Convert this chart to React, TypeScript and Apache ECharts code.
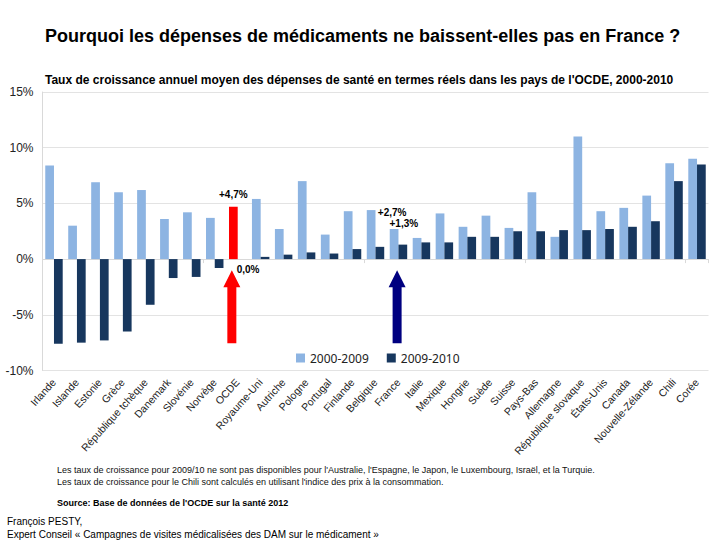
import React, { useEffect, useRef } from "react";
import * as echarts from "echarts";

const categories = [
  "Irlande", "Islande", "Estonie", "Grèce", "République tchèque", "Danemark", "Slovénie", "Norvège", "OCDE",
  "Royaume-Uni", "Autriche", "Pologne", "Portugal", "Finlande", "Belgique", "France", "Italie", "Mexique",
  "Hongrie", "Suède", "Suisse", "Pays-Bas", "Allemagne", "République slovaque", "États-Unis", "Canada",
  "Nouvelle-Zélande", "Chili", "Corée",
];
const growth2000to2009 = [
  8.4, 3.0, 6.9, 6.0, 6.2, 3.6, 4.2, 3.7, 4.7, 5.4, 2.7, 7.0, 2.2, 4.3, 4.4, 2.7, 1.9, 4.1, 2.9, 3.9, 2.8, 6.0,
  2.0, 11.0, 4.3, 4.6, 5.7, 8.6, 9.0,
];
const growth2009to2010 = [
  -7.6, -7.5, -7.3, -6.5, -4.1, -1.7, -1.6, -0.8, 0.0, 0.2, 0.4, 0.6, 0.5, 0.9, 1.1, 1.3, 1.5, 1.5, 2.0, 2.0,
  2.5, 2.5, 2.6, 2.6, 2.7, 2.9, 3.4, 7.0, 8.5,
];
const seriesNames = ["2000-2009", "2009-2010"];
const yTicks = { min: -10, max: 15, interval: 5 };

const LIGHT = "#8DB4E2";
const DARK = "#17375E";
const FONT = '"Liberation Sans", Arial, sans-serif';
const ARROW = "path://M8.5,0 L17,17 L13,17 L13,73 L4,73 L4,17 L0,17 Z";

export default function App() {
  const ref = useRef<HTMLDivElement>(null);
  useEffect(() => {
    if (!ref.current) return;
    const chart = echarts.init(ref.current, null, { renderer: "svg" });
    const lightData = growth2000to2009.map((v, i) => {
      const c = categories[i];
      if (c === "OCDE")
        return {
          value: v,
          itemStyle: { color: "#FF0000" },
          label: { show: true, position: "top", formatter: "+4,7%", offset: [0, -2] },
        };
      if (c === "France")
        return { value: v, label: { show: true, position: "top", formatter: "+2,7%", offset: [-2, -7] } };
      return v;
    });
    const darkData = growth2009to2010.map((v, i) => {
      const c = categories[i];
      if (c === "OCDE")
        return { value: v, label: { show: true, position: "bottom", formatter: "0,0%", offset: [6, 0] } };
      if (c === "France")
        return { value: v, label: { show: true, position: "top", formatter: "+1,3%", offset: [1, -11] } };
      return v;
    });
    const labelStyle = { fontFamily: FONT, fontWeight: "bold", fontSize: 10, color: "#000" };
    chart.setOption({
      animation: false,
      backgroundColor: "#ffffff",
      textStyle: { fontFamily: FONT },
      grid: { left: 42.5, right: 11.5, top: 92, bottom: 169.5, containLabel: false },
      legend: {
        data: seriesNames,
        left: 291,
        top: 347,
        icon: "rect",
        itemWidth: 9,
        itemHeight: 9,
        itemGap: 18,
        textStyle: { fontFamily: '"Noto Sans", sans-serif', fontSize: 12, color: "#222" },
      },
      xAxis: [
        {
          type: "category",
          data: categories,
          position: "bottom",
          axisLine: { show: false, onZero: false },
          axisTick: { show: false },
          axisLabel: {
            rotate: 48,
            interval: 0,
            fontSize: 10.5,
            color: "#222",
            fontFamily: FONT,
            margin: 10,
          },
        },
        {
          type: "category",
          data: categories,
          position: "bottom",
          axisLine: { show: true, onZero: true, lineStyle: { color: "#d9d9d9" } },
          axisTick: { show: true, length: 4, lineStyle: { color: "#d9d9d9" } },
          axisLabel: { show: false },
        },
      ],
      yAxis: {
        type: "value",
        min: yTicks.min,
        max: yTicks.max,
        interval: yTicks.interval,
        axisLine: { show: true, lineStyle: { color: "#d9d9d9" } },
        axisTick: { show: false },
        splitLine: { lineStyle: { color: "#e3e3e3" } },
        axisLabel: { formatter: "{value}%", fontSize: 12, color: "#222", fontFamily: FONT, margin: 9 },
      },
      series: [
        {
          name: seriesNames[0],
          type: "bar",
          data: lightData,
          itemStyle: { color: LIGHT },
          barGap: "0%",
          barCategoryGap: "24%",
          label: { ...labelStyle, show: false },
          markPoint: {
            silent: true,
            label: { show: false },
            data: [
              {
                coord: ["OCDE", -4.27],
                symbol: ARROW,
                symbolSize: [17, 73],
                symbolOffset: [-1.5, 0],
                itemStyle: { color: "#FF0000" },
              },
              {
                coord: ["France", -4.27],
                symbol: ARROW,
                symbolSize: [17, 73],
                symbolOffset: [3, 0],
                itemStyle: { color: "#000080" },
              },
            ],
          },
        },
        {
          name: seriesNames[1],
          type: "bar",
          data: darkData,
          itemStyle: { color: DARK },
          barGap: "0%",
          barCategoryGap: "24%",
          label: { ...labelStyle, show: false },
        },
      ],
      graphic: [
        {
          type: "text",
          x: 45,
          y: 36,
          style: {
            text: "Pourquoi les dépenses de médicaments ne baissent-elles pas en France ?",
            font: `bold 18px ${FONT}`,
            fill: "#000",
            verticalAlign: "middle",
          },
        },
        {
          type: "text",
          x: 45,
          y: 80,
          style: {
            text: "Taux de croissance annuel moyen des dépenses de santé en termes réels dans les pays de l'OCDE, 2000-2010",
            font: `bold 12px ${FONT}`,
            fill: "#000",
            verticalAlign: "middle",
          },
        },
        {
          type: "text",
          x: 57,
          y: 470,
          style: {
            text: "Les taux de croissance pour 2009/10 ne sont pas disponibles pour l'Australie, l'Espagne, le Japon, le Luxembourg, Israël, et la Turquie.",
            font: `9px ${FONT}`,
            fill: "#111",
            verticalAlign: "middle",
          },
        },
        {
          type: "text",
          x: 57,
          y: 482,
          style: {
            text: "Les taux de croissance pour le Chili sont calculés en utilisant l'indice des prix à la consommation.",
            font: `9px ${FONT}`,
            fill: "#111",
            verticalAlign: "middle",
          },
        },
        {
          type: "text",
          x: 57,
          y: 503,
          style: {
            text: "Source: Base de données de l'OCDE sur la santé 2012",
            font: `bold 9px ${FONT}`,
            fill: "#000",
            verticalAlign: "middle",
          },
        },
        {
          type: "text",
          x: 7,
          y: 521,
          style: { text: "François PESTY,", font: `10px ${FONT}`, fill: "#000", verticalAlign: "middle" },
        },
        {
          type: "text",
          x: 7,
          y: 534,
          style: {
            text: "Expert Conseil « Campagnes de visites médicalisées des DAM sur le médicament »",
            font: `10px ${FONT}`,
            fill: "#000",
            verticalAlign: "middle",
          },
        },
      ],
    });
    return () => chart.dispose();
  }, []);
  return (
    <div
      ref={ref}
      style={{ position: "absolute", left: 0, top: 0, width: 720, height: 540, background: "#fff" }}
    />
  );
}
